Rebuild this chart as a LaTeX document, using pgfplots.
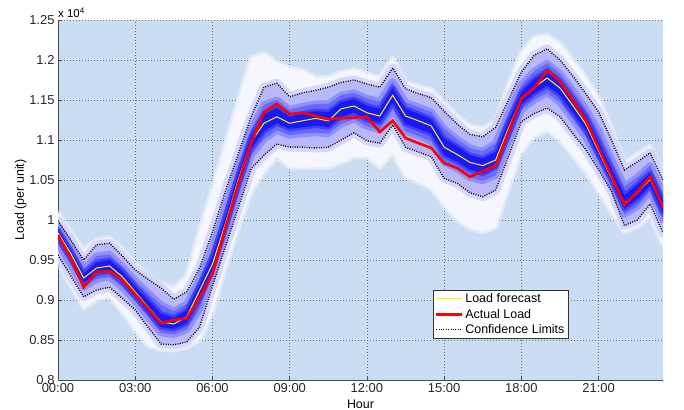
\documentclass[border=0pt]{standalone}
\usepackage{pgfplots}
\pgfplotsset{compat=1.18}
\usepackage{pgfplotstable}
\usepgfplotslibrary{fillbetween}
\usepackage{fontspec}
\setmainfont{Liberation Sans}
\definecolor{bgblue}{RGB}{202,221,242}
\definecolor{fan0}{RGB}{246,246,254}
\definecolor{fan1}{RGB}{185,185,250}
\definecolor{fan2}{RGB}{105,105,250}
\definecolor{fan3}{RGB}{25,25,248}

\pgfplotstableread{
h fc act up lo oup olo m1u m1l m2u m2l
0 0.984 0.981 0.999 0.956 1.009 0.946 0.992 0.970 0.988 0.977
0.5 0.958 0.952 0.975 0.930 0.985 0.918 0.967 0.944 0.962 0.951
1 0.9275 0.916 0.950 0.904 0.9625 0.890 0.939 0.916 0.933 0.922
1.5 0.940 0.935 0.969 0.9125 0.975 0.900 0.955 0.926 0.947 0.933
2 0.9425 0.936 0.971 0.916 0.978 0.904 0.957 0.929 0.950 0.936
2.5 0.929 0.925 0.955 0.902 0.963 0.885 0.942 0.916 0.936 0.922
3 0.910 0.907 0.9375 0.8875 0.945 0.862 0.924 0.899 0.917 0.904
3.5 0.891 0.889 0.926 0.866 0.930 0.843 0.909 0.879 0.900 0.885
4 0.8725 0.871 0.915 0.845 0.920 0.838 0.894 0.859 0.883 0.866
4.5 0.870 0.875 0.901 0.844 0.915 0.8375 0.886 0.857 0.878 0.864
5 0.879 0.877 0.910 0.8475 0.930 0.841 0.895 0.863 0.887 0.871
5.5 0.912 0.903 0.940 0.866 0.987 0.850 0.926 0.889 0.919 0.901
6 0.945 0.932 0.985 0.9175 1.040 0.885 0.965 0.931 0.955 0.938
6.5 0.995 0.990 1.036 0.966 1.095 0.940 1.016 0.981 1.005 0.988
7 1.050 1.045 1.0825 1.015 1.149 0.990 1.066 1.033 1.058 1.041
7.5 1.0975 1.096 1.129 1.064 1.2025 1.035 1.113 1.081 1.105 1.089
8 1.121 1.135 1.166 1.081 1.208 1.060 1.144 1.101 1.132 1.111
8.5 1.129 1.145 1.171 1.095 1.1975 1.079 1.150 1.112 1.140 1.121
9 1.121 1.1325 1.154 1.091 1.190 1.066 1.138 1.106 1.129 1.114
9.5 1.124 1.134 1.159 1.091 1.187 1.065 1.142 1.108 1.133 1.116
10 1.127 1.130 1.162 1.090 1.178 1.066 1.145 1.109 1.136 1.118
10.5 1.124 1.126 1.166 1.091 1.178 1.066 1.145 1.108 1.135 1.116
11 1.139 1.127 1.172 1.100 1.185 1.072 1.156 1.120 1.147 1.129
11.5 1.1425 1.128 1.175 1.109 1.188 1.079 1.159 1.126 1.151 1.134
12 1.134 1.129 1.170 1.099 1.183 1.079 1.152 1.117 1.143 1.125
12.5 1.130 1.110 1.166 1.096 1.178 1.066 1.148 1.113 1.139 1.122
13 1.156 1.124 1.190 1.119 1.2025 1.083 1.173 1.138 1.165 1.147
13.5 1.130 1.1025 1.164 1.091 1.172 1.054 1.147 1.111 1.139 1.120
14 1.124 1.096 1.158 1.085 1.167 1.047 1.141 1.105 1.133 1.114
14.5 1.1175 1.090 1.153 1.079 1.163 1.040 1.135 1.098 1.126 1.108
15 1.091 1.071 1.136 1.052 1.147 1.018 1.114 1.072 1.102 1.081
15.5 1.082 1.065 1.120 1.046 1.130 1.000 1.101 1.064 1.092 1.073
16 1.072 1.054 1.107 1.034 1.118 0.990 1.090 1.053 1.081 1.063
16.5 1.068 1.061 1.104 1.029 1.115 0.985 1.086 1.049 1.077 1.058
17 1.075 1.068 1.116 1.0375 1.123 0.991 1.096 1.056 1.085 1.066
17.5 1.115 1.110 1.150 1.080 1.170 1.040 1.133 1.098 1.124 1.106
18 1.152 1.152 1.185 1.123 1.210 1.085 1.169 1.138 1.160 1.145
18.5 1.166 1.165 1.206 1.133 1.228 1.105 1.186 1.150 1.176 1.158
19 1.1775 1.187 1.214 1.140 1.231 1.1125 1.196 1.159 1.187 1.168
19.5 1.165 1.173 1.200 1.129 1.220 1.100 1.183 1.147 1.174 1.156
20 1.143 1.150 1.180 1.108 1.200 1.080 1.162 1.126 1.152 1.134
20.5 1.120 1.125 1.158 1.088 1.178 1.060 1.139 1.104 1.130 1.112
21 1.086 1.090 1.135 1.0625 1.152 1.035 1.111 1.074 1.098 1.080
21.5 1.052 1.055 1.100 1.036 1.115 1.010 1.076 1.044 1.064 1.048
22 1.021 1.019 1.0625 0.993 1.072 0.985 1.042 1.007 1.031 1.014
22.5 1.034 1.035 1.0725 1.000 1.082 0.992 1.053 1.017 1.044 1.026
23 1.051 1.054 1.084 1.020 1.092 1.004 1.068 1.036 1.059 1.043
23.5 1.016 1.016 1.050 0.984 1.060 0.969 1.033 1.000 1.025 1.008
}\data

\begin{document}
\begin{tikzpicture}
\begin{axis}[
 name=ax,
 at={(0,0)}, anchor=south west,
 scale only axis, width=605bp, height=360bp,
 xmin=0, xmax=23.5, ymin=0.8, ymax=1.25,
 axis background/.style={fill=bgblue},
 axis x line*=bottom, axis y line*=left,
 axis line style={draw=black!70, line width=0.6bp},
 xtick={0,3,6,9,12,15,18,21},
 xticklabels={00:00,03:00,06:00,09:00,12:00,15:00,18:00,21:00},
 ytick={0.8,0.85,0.9,0.95,1,1.05,1.1,1.15,1.2,1.25},
 yticklabels={0.8,0.85,0.9,0.95,1,1.05,1.1,1.15,1.2,1.25},
 tick align=inside, major tick length=4bp,
 tick style={black!70, line width=0.6bp},
 grid=major,
 major grid style={draw=black!55, dash pattern=on 0.8bp off 2.2bp, line width=0.5bp},
 ticklabel style={font=\fontsize{13}{15}\selectfont, text=black!85},
 xlabel={Hour}, ylabel={Load (per unit)},
 label style={font=\fontsize{12.5}{14}\selectfont},
 ylabel style={yshift=-4bp},
 legend style={at={(0.62,0.25)}, anchor=north west, draw=black!80, fill=white,
   font=\fontsize{12.5}{14}\selectfont, inner sep=1.5bp, row sep=0.8bp},
 legend cell align=left,
 legend image code/.code={\draw[#1] (0bp,0bp) -- (26bp,0bp);},
]
\addplot[draw=none, name path=oup, forget plot] table[x=h,y=oup]{\data};
\addplot[draw=none, name path=olo, forget plot] table[x=h,y=olo]{\data};
\addplot[draw=none, name path=up, forget plot] table[x=h,y=up]{\data};
\addplot[draw=none, name path=lo, forget plot] table[x=h,y=lo]{\data};
\addplot[draw=none, name path=m1u, forget plot] table[x=h,y=m1u]{\data};
\addplot[draw=none, name path=m1l, forget plot] table[x=h,y=m1l]{\data};
\addplot[draw=none, name path=m2u, forget plot] table[x=h,y=m2u]{\data};
\addplot[draw=none, name path=m2l, forget plot] table[x=h,y=m2l]{\data};
\addplot[fill=fan0, draw=fan0, draw opacity=0.55, line width=5bp, line join=round, forget plot] fill between[of=oup and olo];
\addplot[fill=fan1, draw=fan1, draw opacity=0.5, line width=9bp, line join=round, forget plot] fill between[of=up and lo];
\addplot[fill=fan2, draw=fan2, draw opacity=0.5, line width=7bp, line join=round, forget plot] fill between[of=m1u and m1l];
\addplot[fill=fan3, draw=fan3, draw opacity=0.5, line width=5bp, line join=round, forget plot] fill between[of=m2u and m2l];
\addplot[yellow, line width=1bp] table[x=h,y=fc]{\data};
\addlegendentry{Load forecast}
\addplot[red, line width=2.6bp] table[x=h,y=act]{\data};
\addlegendentry{Actual Load}
\addplot[black, line width=1.4bp, dash pattern=on 0.9bp off 1.5bp] table[x=h,y=up]{\data};
\addlegendentry{Confidence Limits}
\addplot[black, line width=1.4bp, dash pattern=on 0.9bp off 1.5bp, forget plot] table[x=h,y=lo]{\data};
\end{axis}
\node[anchor=south west, inner sep=0pt, font=\fontsize{11.5}{13}\selectfont] at ([yshift=2bp]ax.north west) {x 10\textsuperscript{4}};
\pgfresetboundingbox
\path[use as bounding box] (-58bp,-30bp) rectangle (626bp,380bp);
\end{tikzpicture}
\end{document}
